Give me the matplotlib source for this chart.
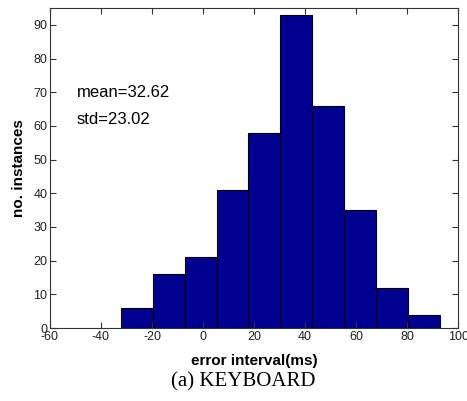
import numpy as np
import matplotlib
matplotlib.use('Agg')
import matplotlib.pyplot as plt

# histogram of keyboard error intervals
bin_edges = [-32.2, -19.7, -7.2, 5.3, 17.8, 30.3, 42.8, 55.3, 67.7, 80.2, 92.7]
counts = [6, 16, 21, 41, 58, 93, 66, 35, 12, 4]
x_ticks = [-60, -40, -20, 0, 20, 40, 60, 80, 100]
y_ticks = [0, 10, 20, 30, 40, 50, 60, 70, 80, 90]
stats = ['mean=32.62', 'std=23.02']

plt.rcParams['font.family'] = ['Liberation Sans', 'DejaVu Sans']
plt.rcParams['axes.unicode_minus'] = False

fig = plt.figure(figsize=(4.67, 4.01), dpi=100)
ax = fig.add_axes([0.107, 0.182, 0.874, 0.798])

edges = np.array(bin_edges)
ax.bar(edges[:-1], counts, width=np.diff(edges), align='edge',
       color='#000090', edgecolor='black', linewidth=0.8)

ax.set_xlim(-60, 100)
ax.set_ylim(0, 95)
ax.set_xticks(x_ticks)
ax.set_yticks(y_ticks)
ax.tick_params(direction='in', top=True, right=True, length=4, width=0.8,
               labelsize=9, colors='#333333', labelcolor='#222222', pad=2)
for s in ax.spines.values():
    s.set_color('#333333')
    s.set_linewidth(0.8)

ax.text(-49.5, 70, stats[0], fontsize=12, va='center')
ax.text(-49.5, 62, stats[1], fontsize=12, va='center')

ax.set_xlabel('error interval(ms)', fontsize=11, fontweight='bold', labelpad=8)
ax.set_ylabel('no. instances', fontsize=11, fontweight='bold', labelpad=5)

fig.text(0.52, 0.048, '(a) KEYBOARD', fontsize=15, ha='center', va='center',
         family=['Liberation Serif', 'DejaVu Serif'])

fig.savefig('out.png', dpi=100)
